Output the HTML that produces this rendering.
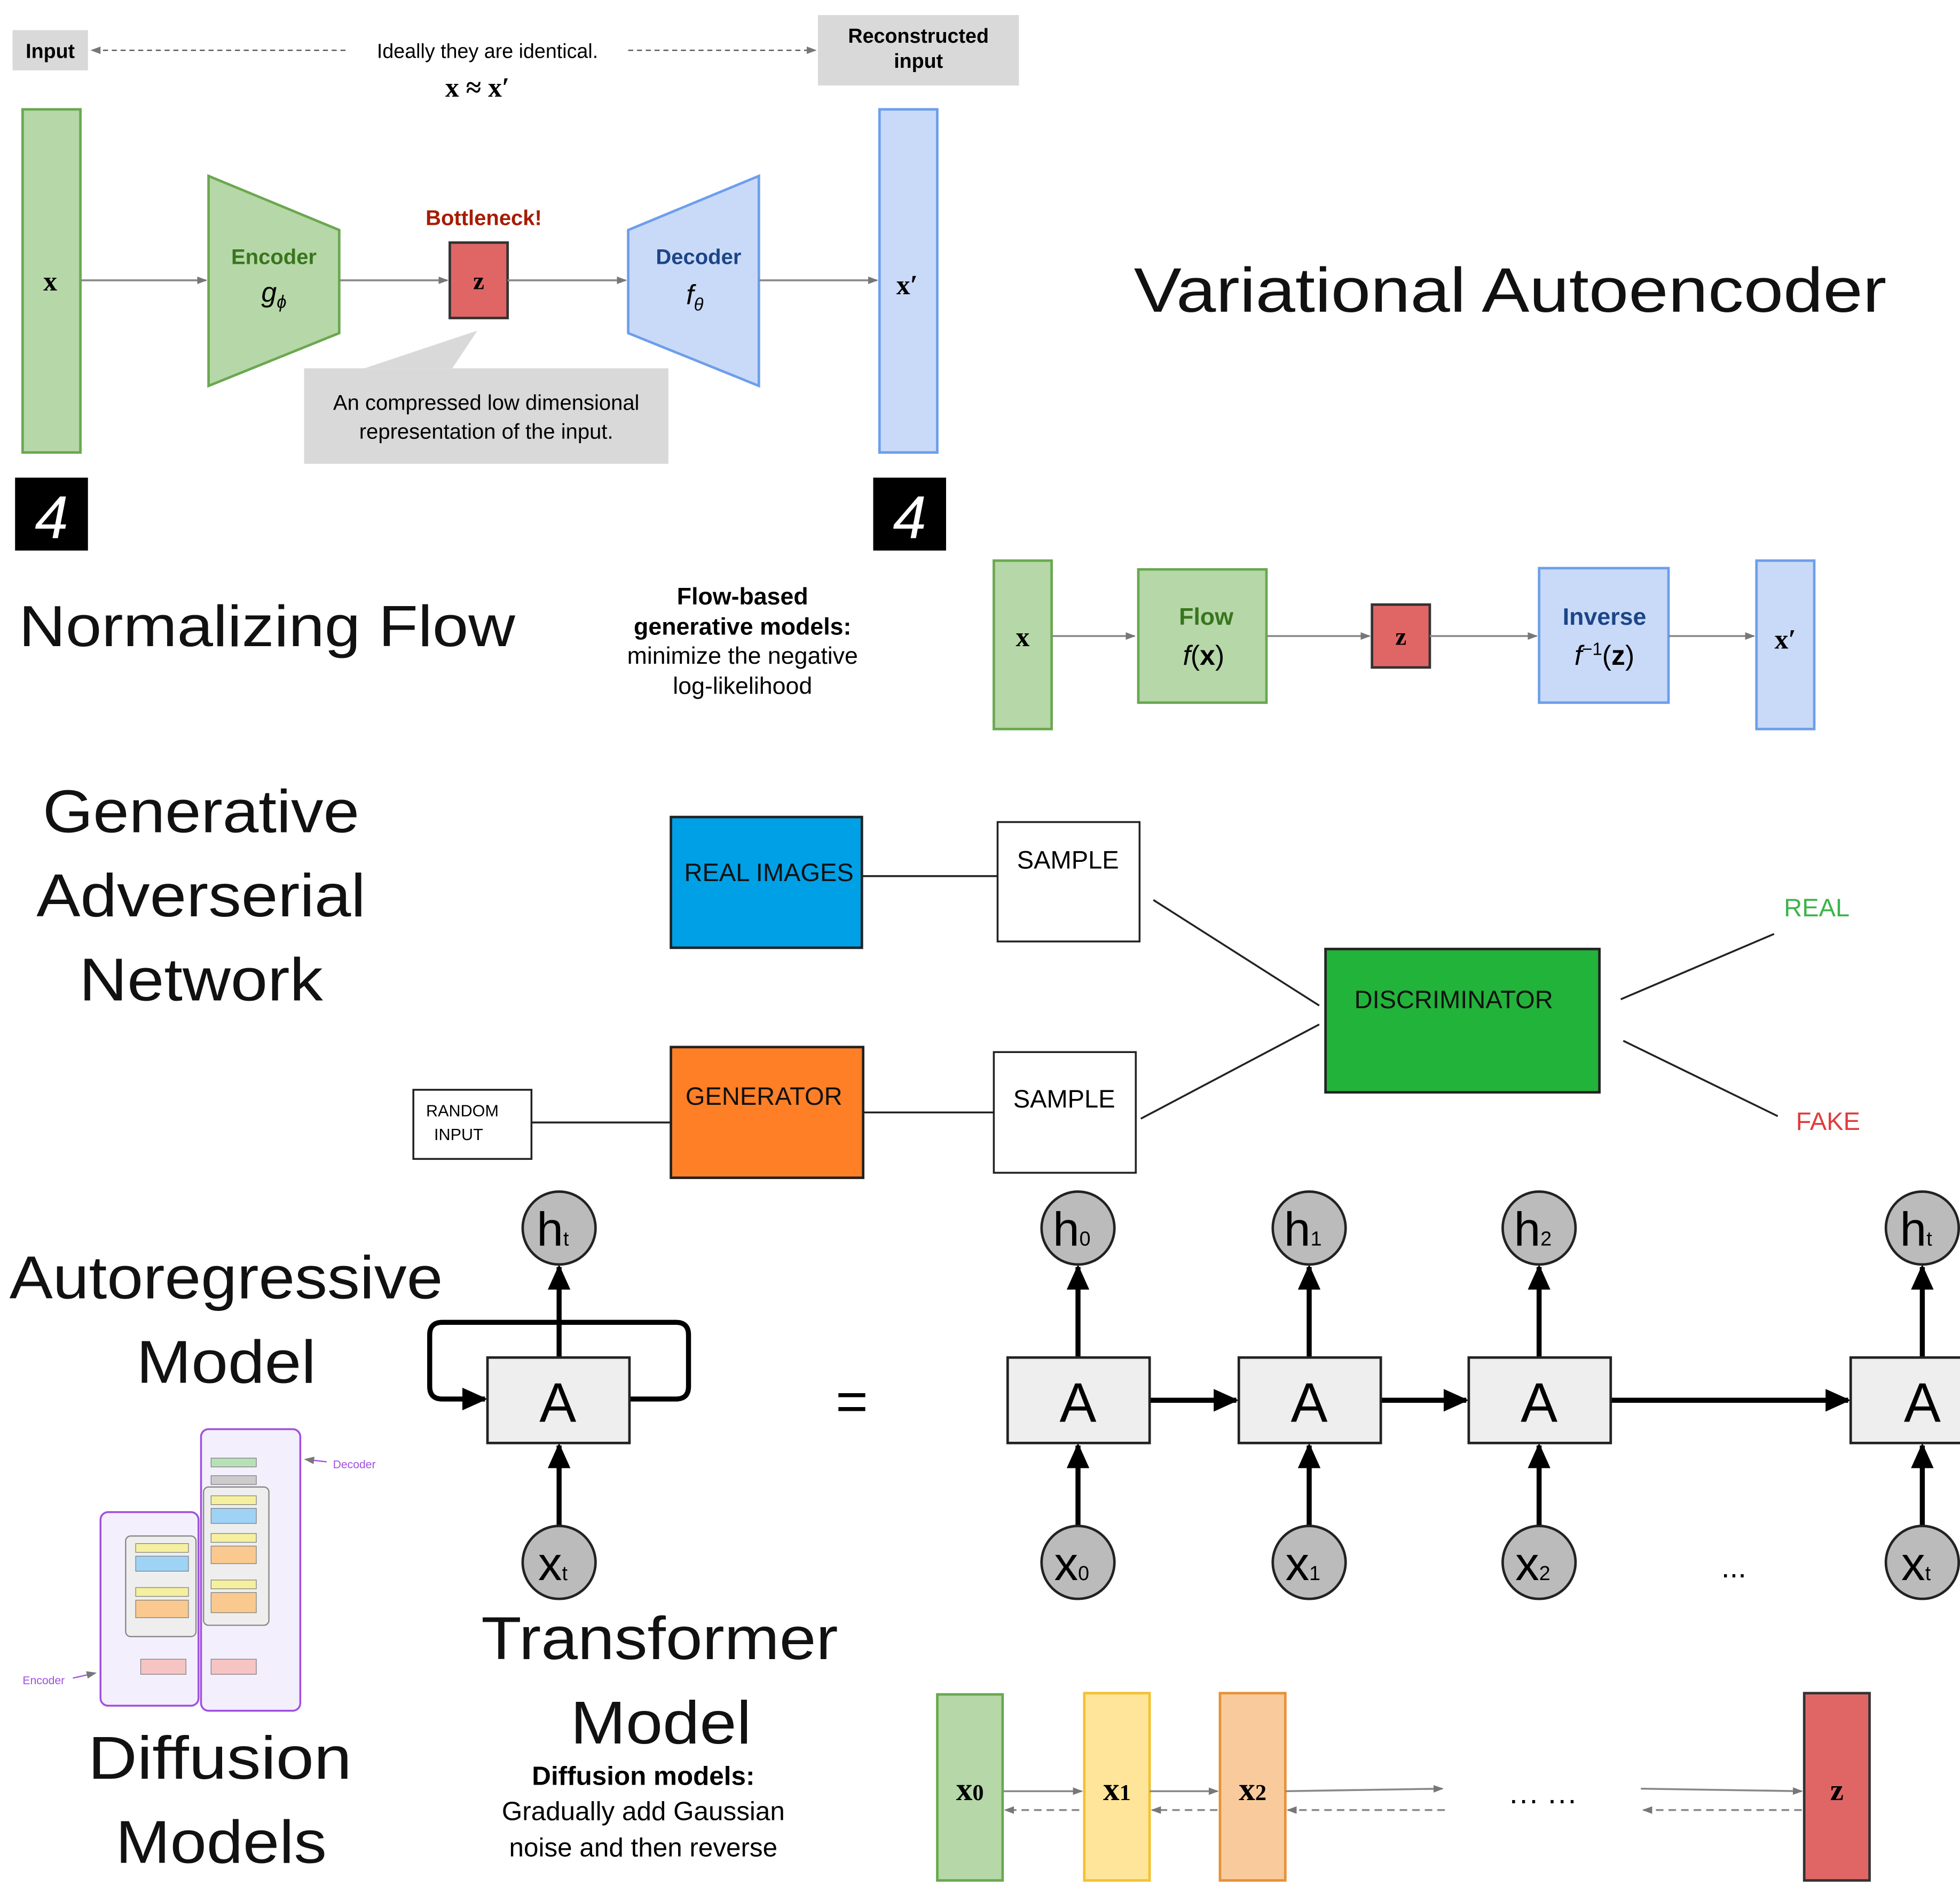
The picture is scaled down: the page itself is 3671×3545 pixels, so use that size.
<!DOCTYPE html>
<html><head><meta charset="utf-8"><style>
html,body{margin:0;padding:0;background:#fff;}
svg{display:block;width:3671px;height:3545px;}
text{font-family:"Liberation Sans",sans-serif;}
.m{font-family:"Liberation Serif",serif;font-weight:bold;}
.big{font-size:48px;text-anchor:middle;fill:#111;}
</style></head><body>
<svg viewBox="0 0 1560 1506" xmlns="http://www.w3.org/2000/svg" preserveAspectRatio="none">
<defs>
<marker id="a" markerWidth="8" markerHeight="8" refX="7" refY="4" orient="auto" markerUnits="userSpaceOnUse"><path d="M0,1 L8,4 L0,7Z" fill="#777"/></marker>
<marker id="b" markerWidth="22" markerHeight="22" refX="18" refY="11" orient="auto" markerUnits="userSpaceOnUse"><path d="M0,2 L20,11 L0,20Z" fill="#000"/></marker>
</defs>
<rect width="1560" height="1506" fill="#fff"/>
<!-- VAE -->
<rect x="10" y="24" width="60" height="32" fill="#d9d9d9"/>
<text x="40" y="46" font-size="16" font-weight="bold" text-anchor="middle">Input</text>
<line x1="275" y1="40" x2="73" y2="40" stroke="#555" stroke-dasharray="4,3" marker-end="url(#a)"/>
<text x="388" y="46" font-size="16" text-anchor="middle">Ideally they are identical.</text>
<line x1="500" y1="40" x2="649" y2="40" stroke="#555" stroke-dasharray="4,3" marker-end="url(#a)"/>
<text x="380" y="77" font-size="22" class="m" text-anchor="middle">x ≈ x′</text>
<rect x="651" y="12" width="160" height="56" fill="#d9d9d9"/>
<text x="731" y="34" font-size="16" font-weight="bold" text-anchor="middle">Reconstructed</text>
<text x="731" y="54" font-size="16" font-weight="bold" text-anchor="middle">input</text>
<rect x="18" y="87" width="46" height="273" fill="#b6d7a8" stroke="#6aa84f" stroke-width="2"/>
<text x="40" y="231" font-size="22" class="m" text-anchor="middle">x</text>
<line x1="64" y1="223" x2="164" y2="223" stroke="#888" stroke-width="1.5" marker-end="url(#a)"/>
<polygon points="166,140 270,183 270,265 166,307" fill="#b6d7a8" stroke="#6aa84f" stroke-width="2"/>
<text x="218" y="210" font-size="17" font-weight="bold" fill="#38761d" text-anchor="middle">Encoder</text>
<text x="218" y="240" font-size="22" font-style="italic" font-family="Liberation Serif" text-anchor="middle">g<tspan font-size="14" dy="5">ϕ</tspan></text>
<line x1="270" y1="223" x2="356" y2="223" stroke="#888" stroke-width="1.5" marker-end="url(#a)"/>
<text x="385" y="179" font-size="17" font-weight="bold" fill="#a61c00" text-anchor="middle">Bottleneck!</text>
<rect x="358" y="193" width="46" height="60" fill="#e06666" stroke="#333" stroke-width="2"/>
<text x="381" y="230" font-size="20" class="m" text-anchor="middle">z</text>
<line x1="404" y1="223" x2="498" y2="223" stroke="#888" stroke-width="1.5" marker-end="url(#a)"/>
<polygon points="500,183 604,140 604,307 500,265" fill="#c9daf8" stroke="#6d9eeb" stroke-width="2"/>
<text x="556" y="210" font-size="17" font-weight="bold" fill="#1c4587" text-anchor="middle">Decoder</text>
<text x="553" y="242" font-size="22" font-style="italic" font-family="Liberation Serif" text-anchor="middle">f<tspan font-size="14" dy="5">θ</tspan></text>
<line x1="604" y1="223" x2="698" y2="223" stroke="#888" stroke-width="1.5" marker-end="url(#a)"/>
<rect x="700" y="87" width="46" height="273" fill="#c9daf8" stroke="#6d9eeb" stroke-width="2"/>
<text x="722" y="234" font-size="22" class="m" text-anchor="middle">x′</text>
<polygon points="290,293 380,263 360,293" fill="#d9d9d9"/>
<rect x="242" y="293" width="290" height="76" fill="#d9d9d9"/>
<text x="387" y="326" font-size="17" text-anchor="middle">An compressed low dimensional</text>
<text x="387" y="349" font-size="17" text-anchor="middle">representation of the input.</text>
<rect x="12" y="380" width="58" height="58" fill="#000"/>
<text x="41" y="428" font-size="48" fill="#fff" text-anchor="middle" font-style="italic">4</text>
<rect x="695" y="380" width="58" height="58" fill="#000"/>
<text x="724" y="428" font-size="48" fill="#fff" text-anchor="middle" font-style="italic">4</text>
<text x="1202" y="248" font-size="50" text-anchor="middle" fill="#111" textLength="599" lengthAdjust="spacingAndGlyphs">Variational Autoencoder</text>
<!-- Normalizing flow -->
<text x="15" y="514" font-size="46" fill="#111" textLength="395" lengthAdjust="spacingAndGlyphs">Normalizing Flow</text>
<text x="591" y="481" font-size="19" font-weight="bold" text-anchor="middle">Flow-based</text>
<text x="591" y="505" font-size="19" font-weight="bold" text-anchor="middle">generative models:</text>
<text x="591" y="528" font-size="19" text-anchor="middle">minimize the negative</text>
<text x="591" y="552" font-size="19" text-anchor="middle">log-likelihood</text>
<rect x="791" y="446" width="46" height="134" fill="#b6d7a8" stroke="#6aa84f" stroke-width="2"/>
<text x="814" y="514" font-size="22" class="m" text-anchor="middle">x</text>
<line x1="837" y1="506" x2="903" y2="506" stroke="#888" stroke-width="1.5" marker-end="url(#a)"/>
<rect x="906" y="453" width="102" height="106" fill="#b6d7a8" stroke="#6aa84f" stroke-width="2"/>
<text x="960" y="497" font-size="19" font-weight="bold" fill="#38761d" text-anchor="middle">Flow</text>
<text x="958" y="529" font-size="22" font-family="Liberation Serif" text-anchor="middle"><tspan font-style="italic">f</tspan>(<tspan font-weight="bold">x</tspan>)</text>
<line x1="1008" y1="506" x2="1090" y2="506" stroke="#888" stroke-width="1.5" marker-end="url(#a)"/>
<rect x="1092" y="481" width="46" height="50" fill="#e06666" stroke="#333" stroke-width="2"/>
<text x="1115" y="513" font-size="20" class="m" text-anchor="middle">z</text>
<line x1="1138" y1="506" x2="1223" y2="506" stroke="#888" stroke-width="1.5" marker-end="url(#a)"/>
<rect x="1225" y="452" width="103" height="107" fill="#c9daf8" stroke="#6d9eeb" stroke-width="2"/>
<text x="1277" y="497" font-size="19" font-weight="bold" fill="#1c4587" text-anchor="middle">Inverse</text>
<text x="1277" y="529" font-size="22" font-family="Liberation Serif" text-anchor="middle"><tspan font-style="italic">f</tspan><tspan font-size="14" dy="-8">−1</tspan><tspan dy="8">(</tspan><tspan font-weight="bold">z</tspan>)</text>
<line x1="1328" y1="506" x2="1396" y2="506" stroke="#888" stroke-width="1.5" marker-end="url(#a)"/>
<rect x="1398" y="446" width="46" height="134" fill="#c9daf8" stroke="#6d9eeb" stroke-width="2"/>
<text x="1421" y="516" font-size="22" class="m" text-anchor="middle">x′</text>
<!-- GAN -->
<text x="160" y="662" class="big" textLength="252" lengthAdjust="spacingAndGlyphs">Generative</text>
<text x="160" y="729" class="big" textLength="262" lengthAdjust="spacingAndGlyphs">Adverserial</text>
<text x="160" y="796" class="big" textLength="194" lengthAdjust="spacingAndGlyphs">Network</text>
<rect x="534" y="650" width="152" height="104" fill="#00a0e6" stroke="#222" stroke-width="2"/>
<text x="612" y="701" font-size="20" text-anchor="middle" fill="#111">REAL IMAGES</text>
<line x1="686" y1="697" x2="794" y2="697" stroke="#222" stroke-width="1.5"/>
<rect x="794" y="654" width="113" height="95" fill="#fff" stroke="#222" stroke-width="1.5"/>
<text x="850" y="691" font-size="20" text-anchor="middle">SAMPLE</text>
<line x1="918" y1="716" x2="1050" y2="800" stroke="#222" stroke-width="1.5"/>
<rect x="1055" y="755" width="218" height="114" fill="#22b33b" stroke="#222" stroke-width="2"/>
<text x="1157" y="802" font-size="20" text-anchor="middle" fill="#111">DISCRIMINATOR</text>
<line x1="1290" y1="795" x2="1412" y2="743" stroke="#222" stroke-width="1.5"/>
<line x1="1292" y1="828" x2="1415" y2="888" stroke="#222" stroke-width="1.5"/>
<text x="1446" y="729" font-size="20" text-anchor="middle" fill="#3cb44b">REAL</text>
<text x="1455" y="899" font-size="20" text-anchor="middle" fill="#e03c3c">FAKE</text>
<rect x="329" y="867" width="94" height="55" fill="#fff" stroke="#222" stroke-width="1.5"/>
<text x="368" y="888" font-size="13" text-anchor="middle">RANDOM</text>
<text x="365" y="907" font-size="13" text-anchor="middle">INPUT</text>
<line x1="423" y1="893" x2="534" y2="893" stroke="#222" stroke-width="1.5"/>
<rect x="534" y="833" width="153" height="104" fill="#ff7f27" stroke="#222" stroke-width="2"/>
<text x="608" y="879" font-size="20" text-anchor="middle" fill="#111">GENERATOR</text>
<line x1="687" y1="885" x2="791" y2="885" stroke="#222" stroke-width="1.5"/>
<rect x="791" y="837" width="113" height="96" fill="#fff" stroke="#222" stroke-width="1.5"/>
<text x="847" y="881" font-size="20" text-anchor="middle">SAMPLE</text>
<line x1="908" y1="890" x2="1050" y2="815" stroke="#222" stroke-width="1.5"/>
<!-- RNN -->
<text x="180" y="1033" class="big" textLength="345" lengthAdjust="spacingAndGlyphs">Autoregressive</text>
<text x="180" y="1100" class="big" textLength="143" lengthAdjust="spacingAndGlyphs">Model</text>
<g stroke="#000" stroke-width="4" fill="none">
<path d="M445,1052 L352,1052 Q342,1052 342,1062 L342,1103 Q342,1113 352,1113 L386,1113" marker-end="url(#b)"/>
<path d="M445,1052 L538,1052 Q548,1052 548,1062 L548,1103 Q548,1113 538,1113 L501,1113"/>
<line x1="445" y1="1080" x2="445" y2="1008" marker-end="url(#b)"/>
<line x1="445" y1="1214" x2="445" y2="1150" marker-end="url(#b)"/>
</g>
<rect x="388" y="1080" width="113" height="68" fill="#eee" stroke="#222" stroke-width="2"/>
<text x="444" y="1131" font-size="44" text-anchor="middle">A</text>
<circle cx="445" cy="977" r="29" fill="#bbb" stroke="#222" stroke-width="2"/>
<text x="440" y="991" font-size="38" text-anchor="middle">h<tspan font-size="16">t</tspan></text>
<circle cx="445" cy="1243" r="29" fill="#bbb" stroke="#222" stroke-width="2"/>
<text x="440" y="1257" font-size="38" text-anchor="middle">x<tspan font-size="16">t</tspan></text>
<text x="678" y="1130" font-size="44" text-anchor="middle">=</text>
<g stroke="#000" stroke-width="4">
<line x1="858" y1="1080" x2="858" y2="1008" marker-end="url(#b)"/><line x1="858" y1="1214" x2="858" y2="1150" marker-end="url(#b)"/>
<line x1="1042" y1="1080" x2="1042" y2="1008" marker-end="url(#b)"/><line x1="1042" y1="1214" x2="1042" y2="1150" marker-end="url(#b)"/>
<line x1="1225" y1="1080" x2="1225" y2="1008" marker-end="url(#b)"/><line x1="1225" y1="1214" x2="1225" y2="1150" marker-end="url(#b)"/>
<line x1="1530" y1="1080" x2="1530" y2="1008" marker-end="url(#b)"/><line x1="1530" y1="1214" x2="1530" y2="1150" marker-end="url(#b)"/>
<line x1="915" y1="1114" x2="984" y2="1114" marker-end="url(#b)"/>
<line x1="1099" y1="1114" x2="1167" y2="1114" marker-end="url(#b)"/>
<line x1="1282" y1="1114" x2="1471" y2="1114" marker-end="url(#b)"/>
</g>
<g>
<rect x="802" y="1080" width="113" height="68" fill="#eee" stroke="#222" stroke-width="2"/><text x="858" y="1131" font-size="44" text-anchor="middle">A</text>
<rect x="986" y="1080" width="113" height="68" fill="#eee" stroke="#222" stroke-width="2"/><text x="1042" y="1131" font-size="44" text-anchor="middle">A</text>
<rect x="1169" y="1080" width="113" height="68" fill="#eee" stroke="#222" stroke-width="2"/><text x="1225" y="1131" font-size="44" text-anchor="middle">A</text>
<rect x="1473" y="1080" width="113" height="68" fill="#eee" stroke="#222" stroke-width="2"/><text x="1530" y="1131" font-size="44" text-anchor="middle">A</text>
</g>
<g fill="#bbb" stroke="#222" stroke-width="2">
<circle cx="858" cy="977" r="29"/><circle cx="1042" cy="977" r="29"/><circle cx="1225" cy="977" r="29"/><circle cx="1530" cy="977" r="29"/>
<circle cx="858" cy="1243" r="29"/><circle cx="1042" cy="1243" r="29"/><circle cx="1225" cy="1243" r="29"/><circle cx="1530" cy="1243" r="29"/>
</g>
<g font-size="38" text-anchor="middle">
<text x="853" y="991">h<tspan font-size="16">0</tspan></text><text x="1037" y="991">h<tspan font-size="16">1</tspan></text><text x="1220" y="991">h<tspan font-size="16">2</tspan></text><text x="1525" y="991">h<tspan font-size="16">t</tspan></text>
<text x="853" y="1257">x<tspan font-size="16">0</tspan></text><text x="1037" y="1257">x<tspan font-size="16">1</tspan></text><text x="1220" y="1257">x<tspan font-size="16">2</tspan></text><text x="1525" y="1257">x<tspan font-size="16">t</tspan></text>
</g>
<text x="1380" y="1255" font-size="24" text-anchor="middle">...</text>
<!-- Transformer thumbnail -->
<rect x="80" y="1203" width="78" height="154" rx="6" fill="#f3effc" stroke="#a050e0" stroke-width="1.5"/>
<rect x="160" y="1137" width="79" height="224" rx="6" fill="#f3effc" stroke="#a050e0" stroke-width="1.5"/>
<rect x="100" y="1222" width="56" height="80" rx="4" fill="#eee" stroke="#888"/>
<rect x="108" y="1228" width="42" height="7" fill="#f5f0a0" stroke="#777" stroke-width=".5"/>
<rect x="108" y="1238" width="42" height="12" fill="#9fd3f5" stroke="#777" stroke-width=".5"/>
<rect x="108" y="1263" width="42" height="7" fill="#f5f0a0" stroke="#777" stroke-width=".5"/>
<rect x="108" y="1273" width="42" height="14" fill="#f9c98f" stroke="#777" stroke-width=".5"/>
<rect x="112" y="1320" width="36" height="12" fill="#f7c4c4" stroke="#777" stroke-width=".5"/>
<rect x="162" y="1183" width="52" height="110" rx="4" fill="#eee" stroke="#888"/>
<rect x="168" y="1160" width="36" height="7" fill="#b8e0b8" stroke="#777" stroke-width=".5"/>
<rect x="168" y="1174" width="36" height="7" fill="#ccc" stroke="#777" stroke-width=".5"/>
<rect x="168" y="1190" width="36" height="7" fill="#f5f0a0" stroke="#777" stroke-width=".5"/>
<rect x="168" y="1200" width="36" height="12" fill="#9fd3f5" stroke="#777" stroke-width=".5"/>
<rect x="168" y="1220" width="36" height="7" fill="#f5f0a0" stroke="#777" stroke-width=".5"/>
<rect x="168" y="1230" width="36" height="14" fill="#f9c98f" stroke="#777" stroke-width=".5"/>
<rect x="168" y="1257" width="36" height="7" fill="#f5f0a0" stroke="#777" stroke-width=".5"/>
<rect x="168" y="1267" width="36" height="16" fill="#f9c98f" stroke="#777" stroke-width=".5"/>
<rect x="168" y="1320" width="36" height="12" fill="#f7c4c4" stroke="#777" stroke-width=".5"/>
<line x1="260" y1="1163" x2="243" y2="1161" stroke="#a050e0" marker-end="url(#a)"/>
<text x="265" y="1168" font-size="9" fill="#a050e0">Decoder</text>
<text x="18" y="1340" font-size="9" fill="#a050e0">Encoder</text>
<line x1="58" y1="1335" x2="76" y2="1331" stroke="#a050e0" marker-end="url(#a)"/>
<text x="525" y="1320" class="big" textLength="284" lengthAdjust="spacingAndGlyphs">Transformer</text>
<text x="526" y="1387" class="big" textLength="144" lengthAdjust="spacingAndGlyphs">Model</text>
<!-- Diffusion -->
<text x="175" y="1415" class="big" textLength="210" lengthAdjust="spacingAndGlyphs">Diffusion</text>
<text x="176" y="1482" class="big" textLength="168" lengthAdjust="spacingAndGlyphs">Models</text>
<text x="512" y="1420" font-size="21" font-weight="bold" text-anchor="middle">Diffusion models:</text>
<text x="512" y="1448" font-size="21" text-anchor="middle">Gradually add Gaussian</text>
<text x="512" y="1477" font-size="21" text-anchor="middle">noise and then reverse</text>
<rect x="746" y="1348" width="52" height="148" fill="#b6d7a8" stroke="#6aa84f" stroke-width="2"/>
<rect x="863" y="1347" width="52" height="149" fill="#ffe599" stroke="#f1c232" stroke-width="2"/>
<rect x="971" y="1347" width="52" height="149" fill="#f9cb9c" stroke="#e69138" stroke-width="2"/>
<rect x="1436" y="1347" width="52" height="149" fill="#e06666" stroke="#333" stroke-width="2"/>
<text x="772" y="1432" font-size="26" class="m" text-anchor="middle">x<tspan font-size="18">0</tspan></text>
<text x="889" y="1432" font-size="26" class="m" text-anchor="middle">x<tspan font-size="18">1</tspan></text>
<text x="997" y="1432" font-size="26" class="m" text-anchor="middle">x<tspan font-size="18">2</tspan></text>
<text x="1462" y="1432" font-size="24" class="m" text-anchor="middle">z</text>
<g stroke="#888" stroke-width="1.5">
<line x1="798" y1="1425" x2="861" y2="1425" marker-end="url(#a)"/>
<line x1="915" y1="1425" x2="969" y2="1425" marker-end="url(#a)"/>
<line x1="1023" y1="1425" x2="1148" y2="1423" marker-end="url(#a)"/>
<line x1="1306" y1="1423" x2="1434" y2="1425" marker-end="url(#a)"/>
<g stroke-dasharray="6,4">
<line x1="859" y1="1440" x2="800" y2="1440" marker-end="url(#a)"/>
<line x1="969" y1="1440" x2="917" y2="1440" marker-end="url(#a)"/>
<line x1="1150" y1="1440" x2="1025" y2="1440" marker-end="url(#a)"/>
<line x1="1434" y1="1440" x2="1308" y2="1440" marker-end="url(#a)"/>
</g></g>
<text x="1228" y="1440" font-size="24" text-anchor="middle">··· ···</text>
</svg>
</body></html>
